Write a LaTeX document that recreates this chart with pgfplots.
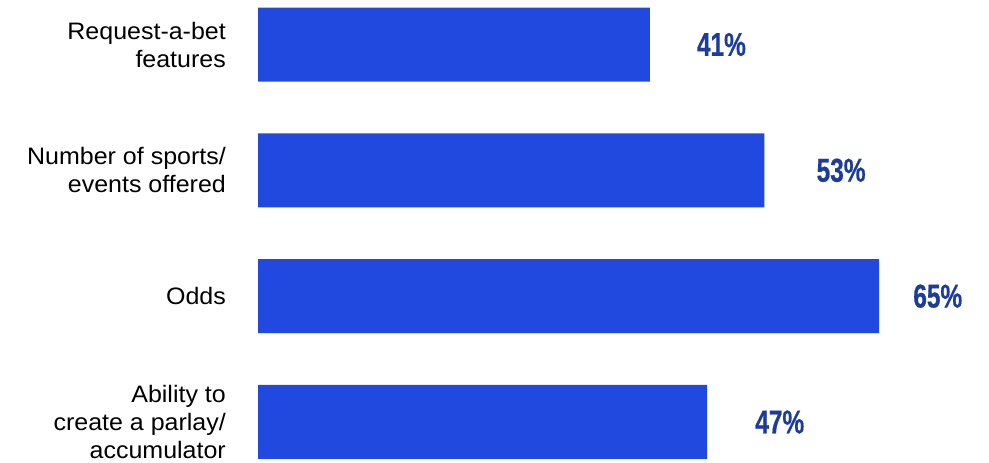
\documentclass[border=0pt]{standalone}
\usepackage{pgfplots}
\pgfplotsset{compat=1.18}
\usepackage{fontspec}
\setmainfont{Liberation Sans}
\newfontfamily\numfont[FakeStretch=0.74,FakeBold=0.6]{Liberation Sans Bold}
\newfontfamily\labfont[FakeStretch=1.05]{Liberation Sans}
\definecolor{barblue}{HTML}{2149E0}
\definecolor{navy}{HTML}{1C3C9C}
\begin{document}
\begin{tikzpicture}[x=1bp,y=1bp]
\path[use as bounding box] (0,0) rectangle (989,463);
\begin{axis}[
  at={(258bp,0bp)}, anchor=south west,
  scale only axis,
  width=731bp, height=463bp,
  xbar, bar width=74bp,
  xmin=0, xmax=76.5,
  ymin=-0.326, ymax=3.354,
  axis line style={draw=none},
  major tick length=0pt,
  xtick=\empty,
  ytick={0,1,2,3},
  yticklabels={{Ability to\\create a parlay/\\accumulator},Odds,{Number of sports/\\events offered},{Request-a-bet\\features}},
  yticklabel style={align=right, anchor=east, inner sep=0pt, xshift=-32bp,
    font=\fontsize{23.8bp}{28bp}\labfont},
  visualization depends on={\thisrow{gap}\as\gap},
  nodes near coords={\pgfmathprintnumber[assume math mode=true]{\pgfplotspointmeta}\%},
  point meta=x,
  nodes near coords style={anchor=west, inner sep=0pt, xshift=\gap bp,
    text=navy, font=\fontsize{33bp}{36bp}\numfont},
  clip=false,
]
\addplot[fill=barblue, draw=none] table {
x  y gap
47 0 48
65 1 34
53 2 52
41 3 47
};
\end{axis}
\end{tikzpicture}
\end{document}
